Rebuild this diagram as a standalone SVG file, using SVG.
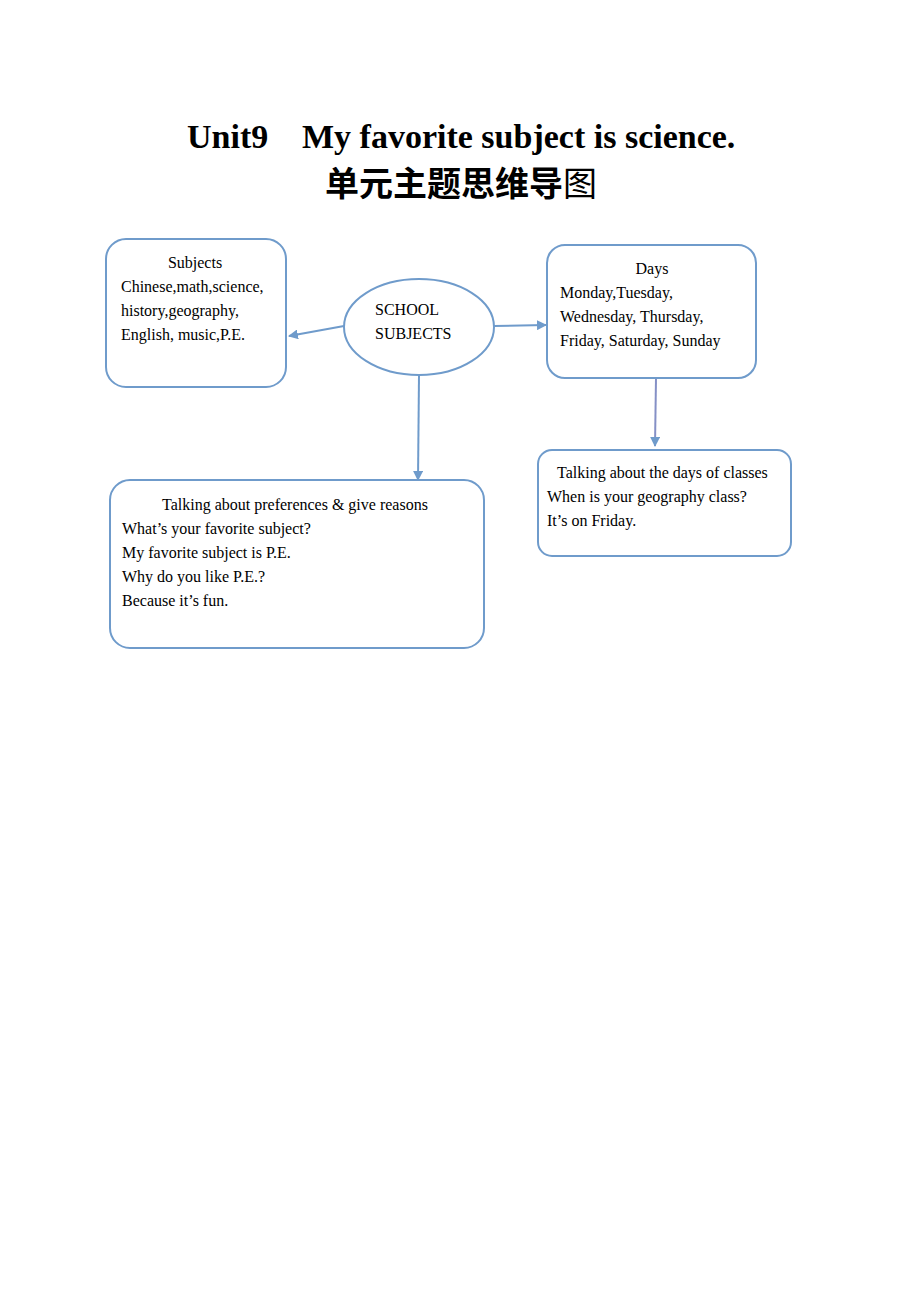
<svg xmlns="http://www.w3.org/2000/svg" width="920" height="1302" viewBox="0 0 920 1302">
<defs>
<style>
.box{fill:#fff;stroke:#6f9bcb;stroke-width:2}
.t{font-family:"Liberation Serif","Times New Roman",serif;font-size:16px;fill:#000}
.title{font-family:"Liberation Serif","Times New Roman",serif;font-size:34px;font-weight:bold;fill:#000}
.cn{font-family:"Noto Sans CJK SC",sans-serif;font-size:34px;fill:#000}
.con{stroke:#6f9bcb;stroke-width:2;fill:none;marker-end:url(#ah)}
</style>
<marker id="ah" viewBox="0 0 10 10" refX="9" refY="5" markerWidth="5" markerHeight="5" orient="auto" markerUnits="strokeWidth">
<path d="M0,0 L10,5 L0,10 z" fill="#6f9bcb"/>
</marker>
</defs>
<rect width="920" height="1302" fill="#fff"/>
<g id="title">
<text class="title" x="187" y="148">Unit9</text>
<text class="title" x="302" y="148">My favorite subject is science.</text>
<text class="cn" x="325" y="196"><tspan font-weight="bold">单元主题思维导</tspan><tspan>图</tspan></text>
</g>
<g id="connectors">
<line class="con" x1="344" y1="326" x2="289" y2="336"/>
<line class="con" x1="494" y1="326" x2="546" y2="325"/>
<line class="con" x1="419" y1="375" x2="418" y2="480"/>
<line class="con" x1="656" y1="378" x2="655" y2="446" style="stroke:#8590c6"/>
</g>
<g id="subjects">
<rect class="box" x="106" y="239" width="180" height="148" rx="20"/>
<text class="t" x="195" y="268" text-anchor="middle">Subjects</text>
<text class="t" x="121" y="292">Chinese,math,science,</text>
<text class="t" x="121" y="316">history,geography,</text>
<text class="t" x="121" y="340">English, music,P.E.</text>
</g>
<g id="center">
<ellipse class="box" cx="419" cy="327" rx="75" ry="48"/>
<text class="t" x="375" y="315">SCHOOL</text>
<text class="t" x="375" y="339">SUBJECTS</text>
</g>
<g id="days">
<rect class="box" x="547" y="245" width="209" height="133" rx="18"/>
<text class="t" x="652" y="274" text-anchor="middle">Days</text>
<text class="t" x="560" y="298">Monday,Tuesday,</text>
<text class="t" x="560" y="322">Wednesday, Thursday,</text>
<text class="t" x="560" y="346">Friday, Saturday, Sunday</text>
</g>
<g id="days-classes">
<rect class="box" x="538" y="450" width="253" height="106" rx="14"/>
<text class="t" x="557" y="478">Talking about the days of classes</text>
<text class="t" x="547" y="502">When is your geography class?</text>
<text class="t" x="547" y="526">It’s on Friday.</text>
</g>
<g id="preferences">
<rect class="box" x="110" y="480" width="374" height="168" rx="20"/>
<text class="t" x="162" y="510">Talking about preferences &amp; give reasons</text>
<text class="t" x="122" y="534">What’s your favorite subject?</text>
<text class="t" x="122" y="558">My favorite subject is P.E.</text>
<text class="t" x="122" y="582">Why do you like P.E.?</text>
<text class="t" x="122" y="606">Because it’s fun.</text>
</g>
</svg>
